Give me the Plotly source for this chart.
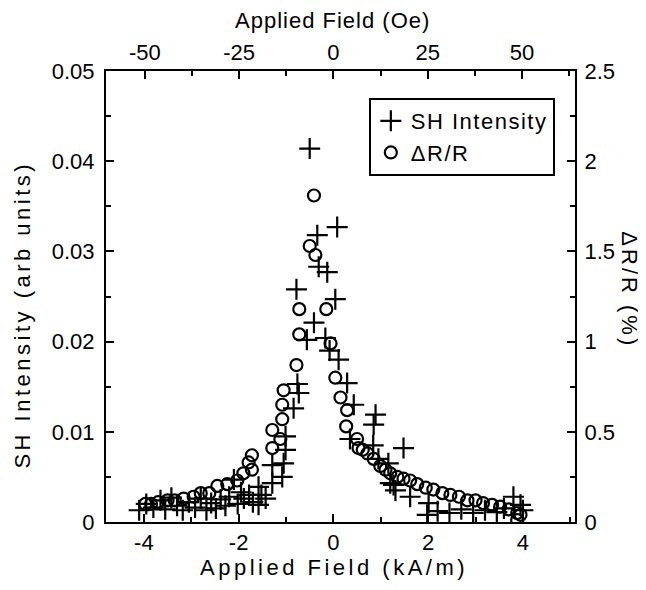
import plotly.graph_objects as go

# SH intensity (crosses), field in kA/m
sh_field = [-0.50, 0.08, -0.34, -0.31, -0.13, -0.78, 0.04, -0.41, -0.56, -0.17,
            -0.08, 0.11, -0.76, -0.73, 0.29, -0.84, 0.43, 0.89, 0.85, -1.01,
            -1.01, 1.48, -1.05, -1.29, -1.08, -1.29, -1.58, -1.43, -1.58, -1.89,
            -2.10, 0.35, 0.84, 0.95, 1.16, 1.20, 1.27, 1.31, 1.62, 1.98,
            2.01, 2.20, 2.45, 2.70, 2.95, 3.20, 3.45, 3.60, 3.80, 3.95,
            4.00, -4.10, -3.95, -3.80, -3.65, -3.55, -3.42, -3.30, -3.18, -3.05,
            -2.92, -2.80, -2.68, -2.58, -2.48, -2.38, -2.28, -2.20, -2.02, -1.95,
            -1.78, -1.70, -1.52]
sh_value = [0.0414, 0.0327, 0.0318, 0.0283, 0.0277, 0.0258, 0.0247, 0.0221, 0.0202, 0.0204,
            0.0190, 0.0180, 0.0153, 0.0143, 0.0154, 0.0126, 0.0130, 0.0119, 0.0108, 0.0095,
            0.0080, 0.0082, 0.0065, 0.0063, 0.0050, 0.0043, 0.0039, 0.0026, 0.0019, 0.0026,
            0.0047, 0.0092, 0.0085, 0.0070, 0.0065, 0.0043, 0.0041, 0.0035, 0.0028, 0.0008,
            0.0021, 0.0012, 0.0010, 0.0014, 0.0010, 0.0013, 0.0011, 0.0015, 0.0028, 0.0019,
            0.0013, 0.0013, 0.0020, 0.0016, 0.0024, 0.0014, 0.0027, 0.0018, 0.0013, 0.0022,
            0.0016, 0.0026, 0.0013, 0.0021, 0.0015, 0.0025, 0.0018, 0.0028, 0.0020, 0.0033,
            0.0030, 0.0022, 0.0030]

# dR/R in percent (circles)
dr_field = [-0.41, -0.50, -0.38, -0.72, -0.15, -0.72, -0.06, -0.78, 0.04, 0.15,
            -1.05, -1.08, -1.08, -1.29, -1.12, -1.29, 0.29, 0.27, 0.50, 0.53,
            0.62, 0.72, 0.85, 0.99, 1.10, 1.20, 1.35, 1.48, 1.62, 1.77,
            1.95, 2.11, 2.30, 2.47, 2.65, 2.83, 3.00, 3.16, 3.35, 3.52,
            3.70, 3.88, 3.95, 3.88, -1.72, -1.79, -1.72, -1.90, -2.03, -2.24,
            -2.45, -2.62, -2.80, -2.95, -3.16, -3.35, -3.50, -3.70, -3.85, -3.97]
dr_value = [1.81, 1.53, 1.48, 1.18, 1.18, 1.04, 0.99, 0.87, 0.80, 0.69,
            0.73, 0.65, 0.57, 0.51, 0.46, 0.41, 0.62, 0.53, 0.46, 0.41,
            0.40, 0.38, 0.35, 0.31, 0.29, 0.27, 0.25, 0.24, 0.23, 0.21,
            0.19, 0.18, 0.16, 0.15, 0.14, 0.12, 0.12, 0.105, 0.095, 0.085,
            0.07, 0.05, 0.04, 0.01, 0.37, 0.33, 0.29, 0.27, 0.23, 0.21,
            0.20, 0.16, 0.16, 0.14, 0.13, 0.12, 0.12, 0.11, 0.10, 0.10]

OE_PER_KAM = 12.566
x_range = [-4.8, 5.1]

FONT = "Liberation Sans, Arial, Helvetica, sans-serif"
TICK_FONT = dict(family=FONT, size=22, color="black")


def spaced(txt, px):
    # the scanned labels are set with loose letter spacing
    return f'<span style="letter-spacing:{px}px">{txt}</span>'


fig = go.Figure()
fig.add_trace(go.Scatter(
    x=sh_field, y=sh_value, mode="markers", name=spaced("SH Intensity", 1.5),
    marker=dict(symbol="cross-thin-open", size=15, color="black",
                line=dict(color="black", width=2.2)),
))
fig.add_trace(go.Scatter(
    x=dr_field, y=dr_value, mode="markers", name=spaced("ΔR/R", 1.5), yaxis="y2",
    marker=dict(symbol="circle-open", size=12, color="black",
                line=dict(color="black", width=2.2)),
))
# empty trace so the top (Oe) axis gets drawn
fig.add_trace(go.Scatter(x=[], y=[], xaxis="x2", showlegend=False, hoverinfo="skip"))

axis_common = dict(showline=True, linecolor="black", linewidth=2, ticks="inside",
                   tickcolor="black", tickwidth=2, ticklen=8, showgrid=False,
                   zeroline=False, tickfont=TICK_FONT)
minor_common = dict(ticks="inside", ticklen=5, tickcolor="black", tickwidth=2)

# page body has an 8px margin, so the figure is sized 8px smaller
fig.update_layout(
    width=638, height=582,
    paper_bgcolor="white", plot_bgcolor="white",
    margin=dict(l=98, r=71, t=63, b=68),
    font=TICK_FONT,
    showlegend=True,
    xaxis=dict(range=x_range, tickvals=[-4, -2, 0, 2, 4], ticktext=["-4", "-2", "0", "2", "4"],
               minor=dict(dtick=1, **minor_common), ticklabelstandoff=0, **axis_common),
    xaxis2=dict(range=[x_range[0] * OE_PER_KAM, x_range[1] * OE_PER_KAM], overlaying="x",
                side="top", anchor="y", tickvals=[-50, -25, 0, 25, 50],
                ticktext=["-50", "-25", "0", "25", "50"],
                minor=dict(dtick=12.5, **minor_common), ticklabelstandoff=0, **axis_common),
    yaxis=dict(range=[0, 0.05], tickvals=[0, 0.01, 0.02, 0.03, 0.04, 0.05],
               ticktext=["0", "0.01", "0.02", "0.03", "0.04", "0.05"],
               minor=dict(dtick=0.005, **minor_common), ticklabelstandoff=5, **axis_common),
    yaxis2=dict(range=[0, 2.5], overlaying="y", side="right", anchor="x",
                tickvals=[0, 0.5, 1, 1.5, 2, 2.5], ticktext=["0", "0.5", "1", "1.5", "2", "2.5"],
                minor=dict(dtick=0.25, **minor_common), ticklabelstandoff=3, **axis_common),
    legend=dict(x=0.957, y=0.94, xanchor="right", yanchor="top",
                bgcolor="white", bordercolor="black", borderwidth=2,
                font=dict(family=FONT, size=22, color="black"),
                itemwidth=30, tracegroupgap=0),
    annotations=[
        dict(text=spaced("Applied Field (kA/m)", 3.5), x=0.486, y=-0.1, xref="paper", yref="paper",
             xanchor="center", yanchor="middle", showarrow=False, font=TICK_FONT),
        dict(text=spaced("Applied Field (Oe)", 1), x=0.484, y=1.112, xref="paper", yref="paper",
             xanchor="center", yanchor="middle", showarrow=False, font=TICK_FONT),
        dict(text=spaced("SH Intensity (arb units)", 3.5), x=-0.179, y=0.46, xref="paper",
             yref="paper", xanchor="center", yanchor="middle", showarrow=False, textangle=-90,
             font=TICK_FONT),
        dict(text=spaced("ΔR/R (%)", 3), x=1.117, y=0.514, xref="paper", yref="paper",
             xanchor="center", yanchor="middle", showarrow=False, textangle=90,
             font=TICK_FONT),
    ],
)

fig.write_html("out.html")
